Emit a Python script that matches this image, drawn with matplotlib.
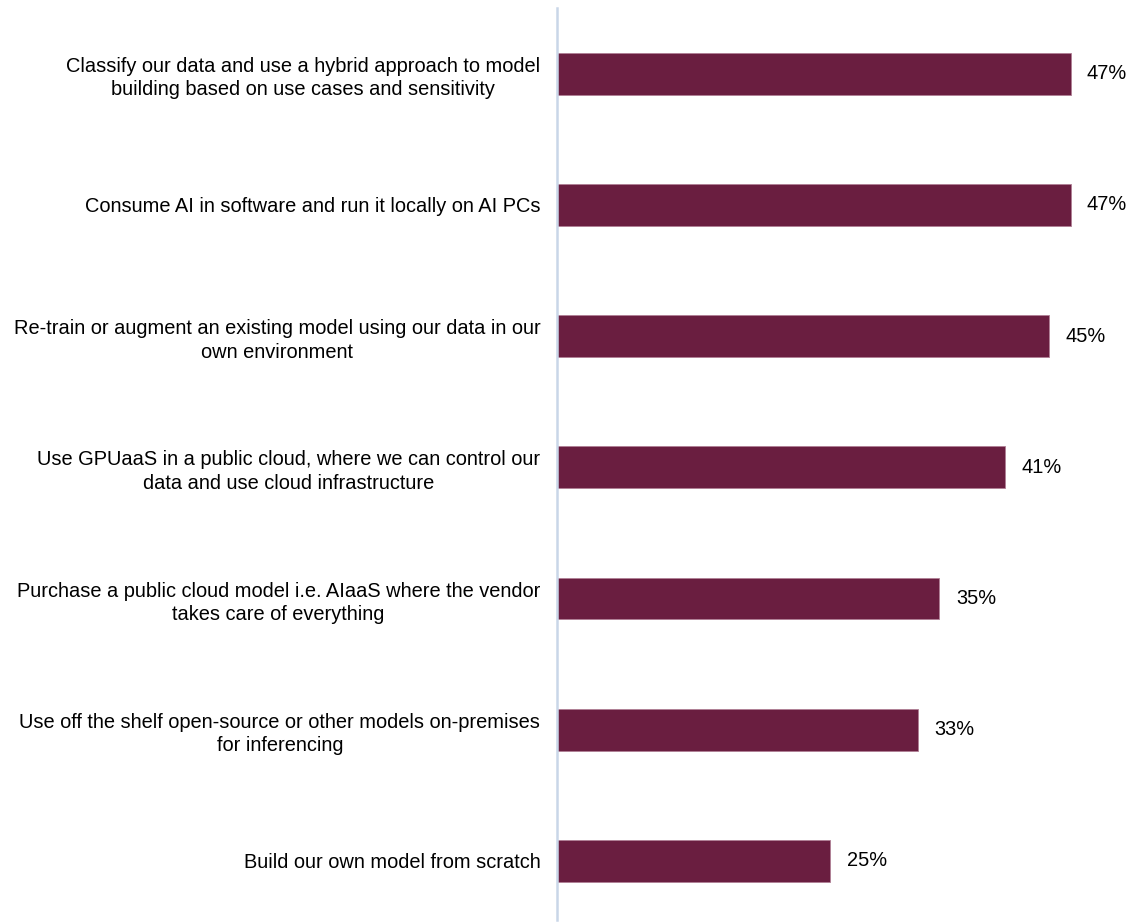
import matplotlib
matplotlib.use("Agg")
import matplotlib.pyplot as plt

# Horizontal bar chart of AI deployment approaches (share of respondents)

categories = [
    "Classify our data and use a hybrid approach to model\nbuilding based on use cases and sensitivity",
    "Consume AI in software and run it locally on AI PCs",
    "Re-train or augment an existing model using our data in our\nown environment",
    "Use GPUaaS in a public cloud, where we can control our\ndata and use cloud infrastructure",
    "Purchase a public cloud model i.e. AIaaS where the vendor\ntakes care of everything",
    "Use off the shelf open-source or other models on-premises\nfor inferencing",
    "Build our own model from scratch",
]
values = [47, 47, 45, 41, 35, 33, 25]

BAR_COLOR = "#6A1E40"
AXIS_COLOR = "#C9D6E8"
FS = 14.4


def main():
    plt.rcParams["font.family"] = ["Liberation Sans", "DejaVu Sans"]

    fig = plt.figure(figsize=(11.35, 9.23), dpi=100)
    # axes spans from the vertical axis line (x=557px) to the right edge
    ax = fig.add_axes([557 / 1135, 3 / 923, 1 - 557 / 1135, 912 / 923])

    y = list(range(len(values)))
    ax.barh(y, values, height=0.32, color=BAR_COLOR, edgecolor="#B07F95", linewidth=0.6)

    ax.set_xlim(0, 52.9)
    ax.set_ylim(6.45, -0.5)

    for yi, v in zip(y, values):
        ax.text(v + 1.5, yi, f"{v}%", va="center", ha="left", fontsize=FS, color="#000000")

    ax.set_yticks(y)
    ax.set_yticklabels(categories, fontsize=FS, multialignment="center", linespacing=1.3)
    ax.tick_params(axis="y", length=0, pad=12)
    ax.set_xticks([])

    for side in ["top", "right", "bottom"]:
        ax.spines[side].set_visible(False)
    ax.spines["left"].set_color(AXIS_COLOR)
    ax.spines["left"].set_linewidth(1.8)

    fig.savefig("out.png", dpi=100)


if __name__ == "__main__":
    main()
